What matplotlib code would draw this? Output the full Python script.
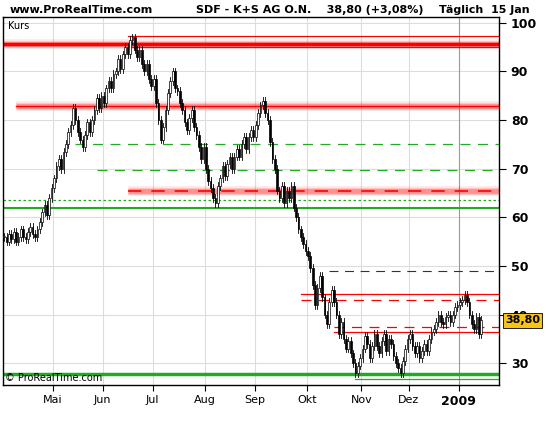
import numpy as np
import matplotlib.pyplot as plt

# daily closes, Apr 2008 .. 15 Jan 2009
apr = [56, 55, 56.5, 55.5, 57, 55, 56, 57.5, 56, 55.5, 57, 58, 56.5, 56, 57.5, 59, 61, 62.5, 60.5, 64, 66]
may = [68, 70.5, 72, 70, 73.5, 75, 77.5, 79, 82.5, 80, 77.5, 76, 74.5, 77, 79.5, 77.5, 80, 82, 84.5, 82.5, 85]
jun = [83.5, 86.5, 88, 86.5, 89.5, 90, 92.5, 90.5, 93.5, 95, 93.5, 96.5, 97, 94.5, 93, 94.5, 91.5, 90, 91.5, 88.5, 87]
jul = [88.5, 83.5, 80, 76, 78.5, 82, 85.5, 88, 90, 86.5, 86, 83.5, 82, 79.5, 78, 80.5, 82, 78.5, 77, 74.5, 72, 74.5]
aug = [70, 67.5, 66, 64, 63, 66.5, 68, 70.5, 68.5, 71, 72.5, 70, 72.5, 74, 72.5, 75, 76.5, 74, 76.5, 78, 76.5]
sep = [79, 81.5, 83, 84, 81.5, 80, 75.5, 72, 70, 65.5, 64, 66.5, 63, 65.5, 64, 66.5, 62, 60, 57.5, 56, 54.5, 53]
okt = [52, 49.5, 46, 42, 45.5, 48, 43.5, 40, 38, 42.5, 45, 42.5, 40, 36, 38.5, 35, 33, 34.5, 32, 30, 28, 29.5, 31]
nov = [33, 35.5, 34, 31, 33.5, 36, 33.5, 32, 34.5, 36, 32.5, 35, 34, 31.5, 30, 29, 28, 30.5, 33, 35]
dez = [36, 33.5, 32, 33.5, 31, 32.5, 34, 32.5, 35, 36.5, 37, 38.5, 40, 38.5, 38, 39.5, 40, 38.5, 40, 41.5, 42]
jan = [42.5, 43, 44, 42.5, 40, 38, 37, 39.5, 36, 38.8]
months = [apr, may, jun, jul, aug, sep, okt, nov, dez, jan]
month_labels = ["", "Mai", "Jun", "Jul", "Aug", "Sep", "Okt", "Nov", "Dez", "2009"]

# horizontal support/resistance lines: (level, start index, color, style, width, glow)
hlines = [
    (95.7, -1, "red", "-", 2.5, True),
    (97.3, 52, "red", "-", 0.9, False),
    (95.1, 52, "red", "-", 0.9, False),
    (82.9, 5, "red", "-", 1.0, True),
    (75.1, 30, "#22aa22", (0, (8, 6)), 0.9, False),
    (69.8, 39, "#22aa22", (0, (8, 6)), 0.9, False),
    (65.4, 52, "red", (0, (8, 6)), 1.2, True),
    (63.6, -1, "#22aa22", (0, (2, 2)), 0.9, False),
    (61.9, -1, "#22aa22", "-", 1.5, False),
    (49.0, 137, "#333333", (0, (8, 6)), 0.8, False),
    (44.2, 125, "red", "-", 0.9, False),
    (43.0, 125, "red", (0, (8, 6)), 0.9, False),
    (37.4, 139, "red", (0, (8, 6)), 0.9, False),
    (36.4, 139, "red", "-", 0.9, False),
    (27.8, -1, "#22aa22", "-", 2.5, False),
    (26.8, 148, "#22aa22", "-", 0.9, False),
]

close = np.concatenate([np.array(m, float) for m in months])
n = len(close)
opens = np.concatenate([[close[0]], close[:-1]])
highs = np.maximum(opens, close) + 0.8
lows = np.minimum(opens, close) - 0.8
month_start = np.cumsum([0] + [len(m) for m in months[:-1]])

fig = plt.figure(figsize=(5.5, 4.25), dpi=100)
ax = fig.add_axes([3 / 550, 40 / 425, 496 / 550, 368 / 425])
xmin, xmax = -0.5, 208.5
ax.set_xlim(xmin, xmax)
ax.set_ylim(25.5, 101.2)

for yv in range(30, 101, 10):
    ax.axhline(yv, color="#dddddd", lw=0.8, zorder=0)
for i, s in enumerate(month_start[1:], start=1):
    c = "#999999" if month_labels[i] == "2009" else "#dddddd"
    ax.axvline(s - 0.5, color=c, lw=0.8, zorder=0)

for lvl, start, col, ls, lw, glow in hlines:
    x0 = max(start, xmin)
    if glow:
        for w, a in [(7, 0.1), (5, 0.15), (3.5, 0.25)]:
            ax.plot([x0, xmax], [lvl, lvl], color=col, lw=w, alpha=a,
                    solid_capstyle="butt", zorder=1)
    ax.plot([x0, xmax], [lvl, lvl], color=col, lw=lw, ls=ls, zorder=2)

# candlesticks
for i in range(n):
    ax.plot([i, i], [lows[i], highs[i]], color="black", lw=0.6, zorder=3)
    lo, hi = min(opens[i], close[i]), max(opens[i], close[i])
    face = "white" if close[i] >= opens[i] else "black"
    ax.add_patch(plt.Rectangle((i - 0.35, lo), 0.7, max(hi - lo, 0.2),
                               facecolor=face, edgecolor="black", lw=0.5, zorder=4))

ax.yaxis.tick_right()
ax.set_yticks(range(30, 101, 10))
ax.tick_params(axis="y", direction="out", length=5, labelsize=9)
for t in ax.get_yticklabels():
    t.set_fontweight("bold")
ax.set_xticks(month_start[1:] - 0.5)
ax.set_xticklabels(month_labels[1:], fontsize=8)
ax.tick_params(axis="x", direction="out", length=4)
for t in ax.get_xticklabels():
    if t.get_text() == "2009":
        t.set_fontweight("bold")
        t.set_fontsize(9)
for sp in ax.spines.values():
    sp.set_linewidth(1.0)

ax.text(0.01, 0.99, "Kurs", transform=ax.transAxes, fontsize=7, va="top", ha="left")
ax.text(1.012, (38.8 - 25.5) / (101.2 - 25.5), "38,80", transform=ax.transAxes, fontsize=8,
        fontweight="bold", va="center", ha="left", zorder=10,
        bbox=dict(boxstyle="square,pad=0.2", fc="#f7c31b", ec="black", lw=0.6))
ax.text(0.005, 0.005, "© ProRealTime.com", transform=ax.transAxes, fontsize=7, va="bottom")

fig.text(10 / 550, 1 - 10 / 425, "www.ProRealTime.com", fontsize=8, fontweight="bold", va="center")
fig.text(196 / 550, 1 - 10 / 425, "SDF - K+S AG O.N.    38,80 (+3,08%)    Täglich  15 Jan",
         fontsize=8, fontweight="bold", va="center")

fig.savefig("out.png", dpi=100)
